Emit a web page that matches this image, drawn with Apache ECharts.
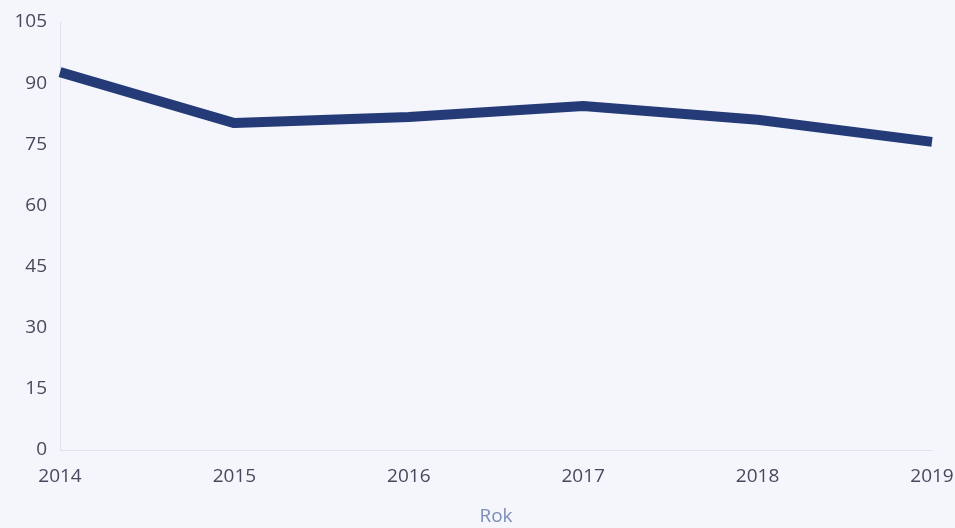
<!DOCTYPE html>
<html>
<head>
<meta charset="utf-8">
<script src="https://cdn.jsdelivr.net/npm/echarts@6/dist/echarts.min.js"></script>
<style>html,body{margin:0;padding:0;background:#f4f6fc;}#c{width:955px;height:528px;}</style>
</head>
<body>
<div id="c"></div>
<script>
const years = ['2014', '2015', '2016', '2017', '2018', '2019'];
const values = [92.7, 80.2, 81.7, 84.4, 81.0, 75.6];
const yMin = 0, yMax = 105, yStep = 15;

const chart = echarts.init(document.getElementById('c'));
chart.setOption({
  backgroundColor: '#f4f6fc',
  animation: false,
  grid: { left: 60, right: 23, top: 22, bottom: 78, containLabel: false, outerBoundsMode: 'none' },
  xAxis: {
    type: 'category',
    data: years,
    boundaryGap: false,
    name: 'Rok',
    nameLocation: 'middle',
    nameGap: 57,
    nameTextStyle: { color: '#7d8db5', fontSize: 19, fontFamily: 'Open Sans' },
    axisLine: { lineStyle: { color: '#dde2ee', width: 1 } },
    axisTick: { show: false },
    axisLabel: { color: '#48495c', fontSize: 19, margin: 17, fontFamily: 'Open Sans' },
    splitLine: { show: false }
  },
  yAxis: {
    type: 'value',
    min: yMin, max: yMax, interval: yStep,
    axisLine: { show: true, lineStyle: { color: '#dde2ee', width: 1 } },
    axisTick: { show: false },
    axisLabel: { color: '#48495c', fontSize: 19, margin: 13, fontFamily: 'Open Sans' },
    splitLine: { show: false }
  },
  series: [{
    type: 'line',
    data: values,
    symbol: 'none',
    lineStyle: { color: '#243b78', width: 10, cap: 'butt', join: 'round' }
  }]
});
</script>
</body>
</html>
